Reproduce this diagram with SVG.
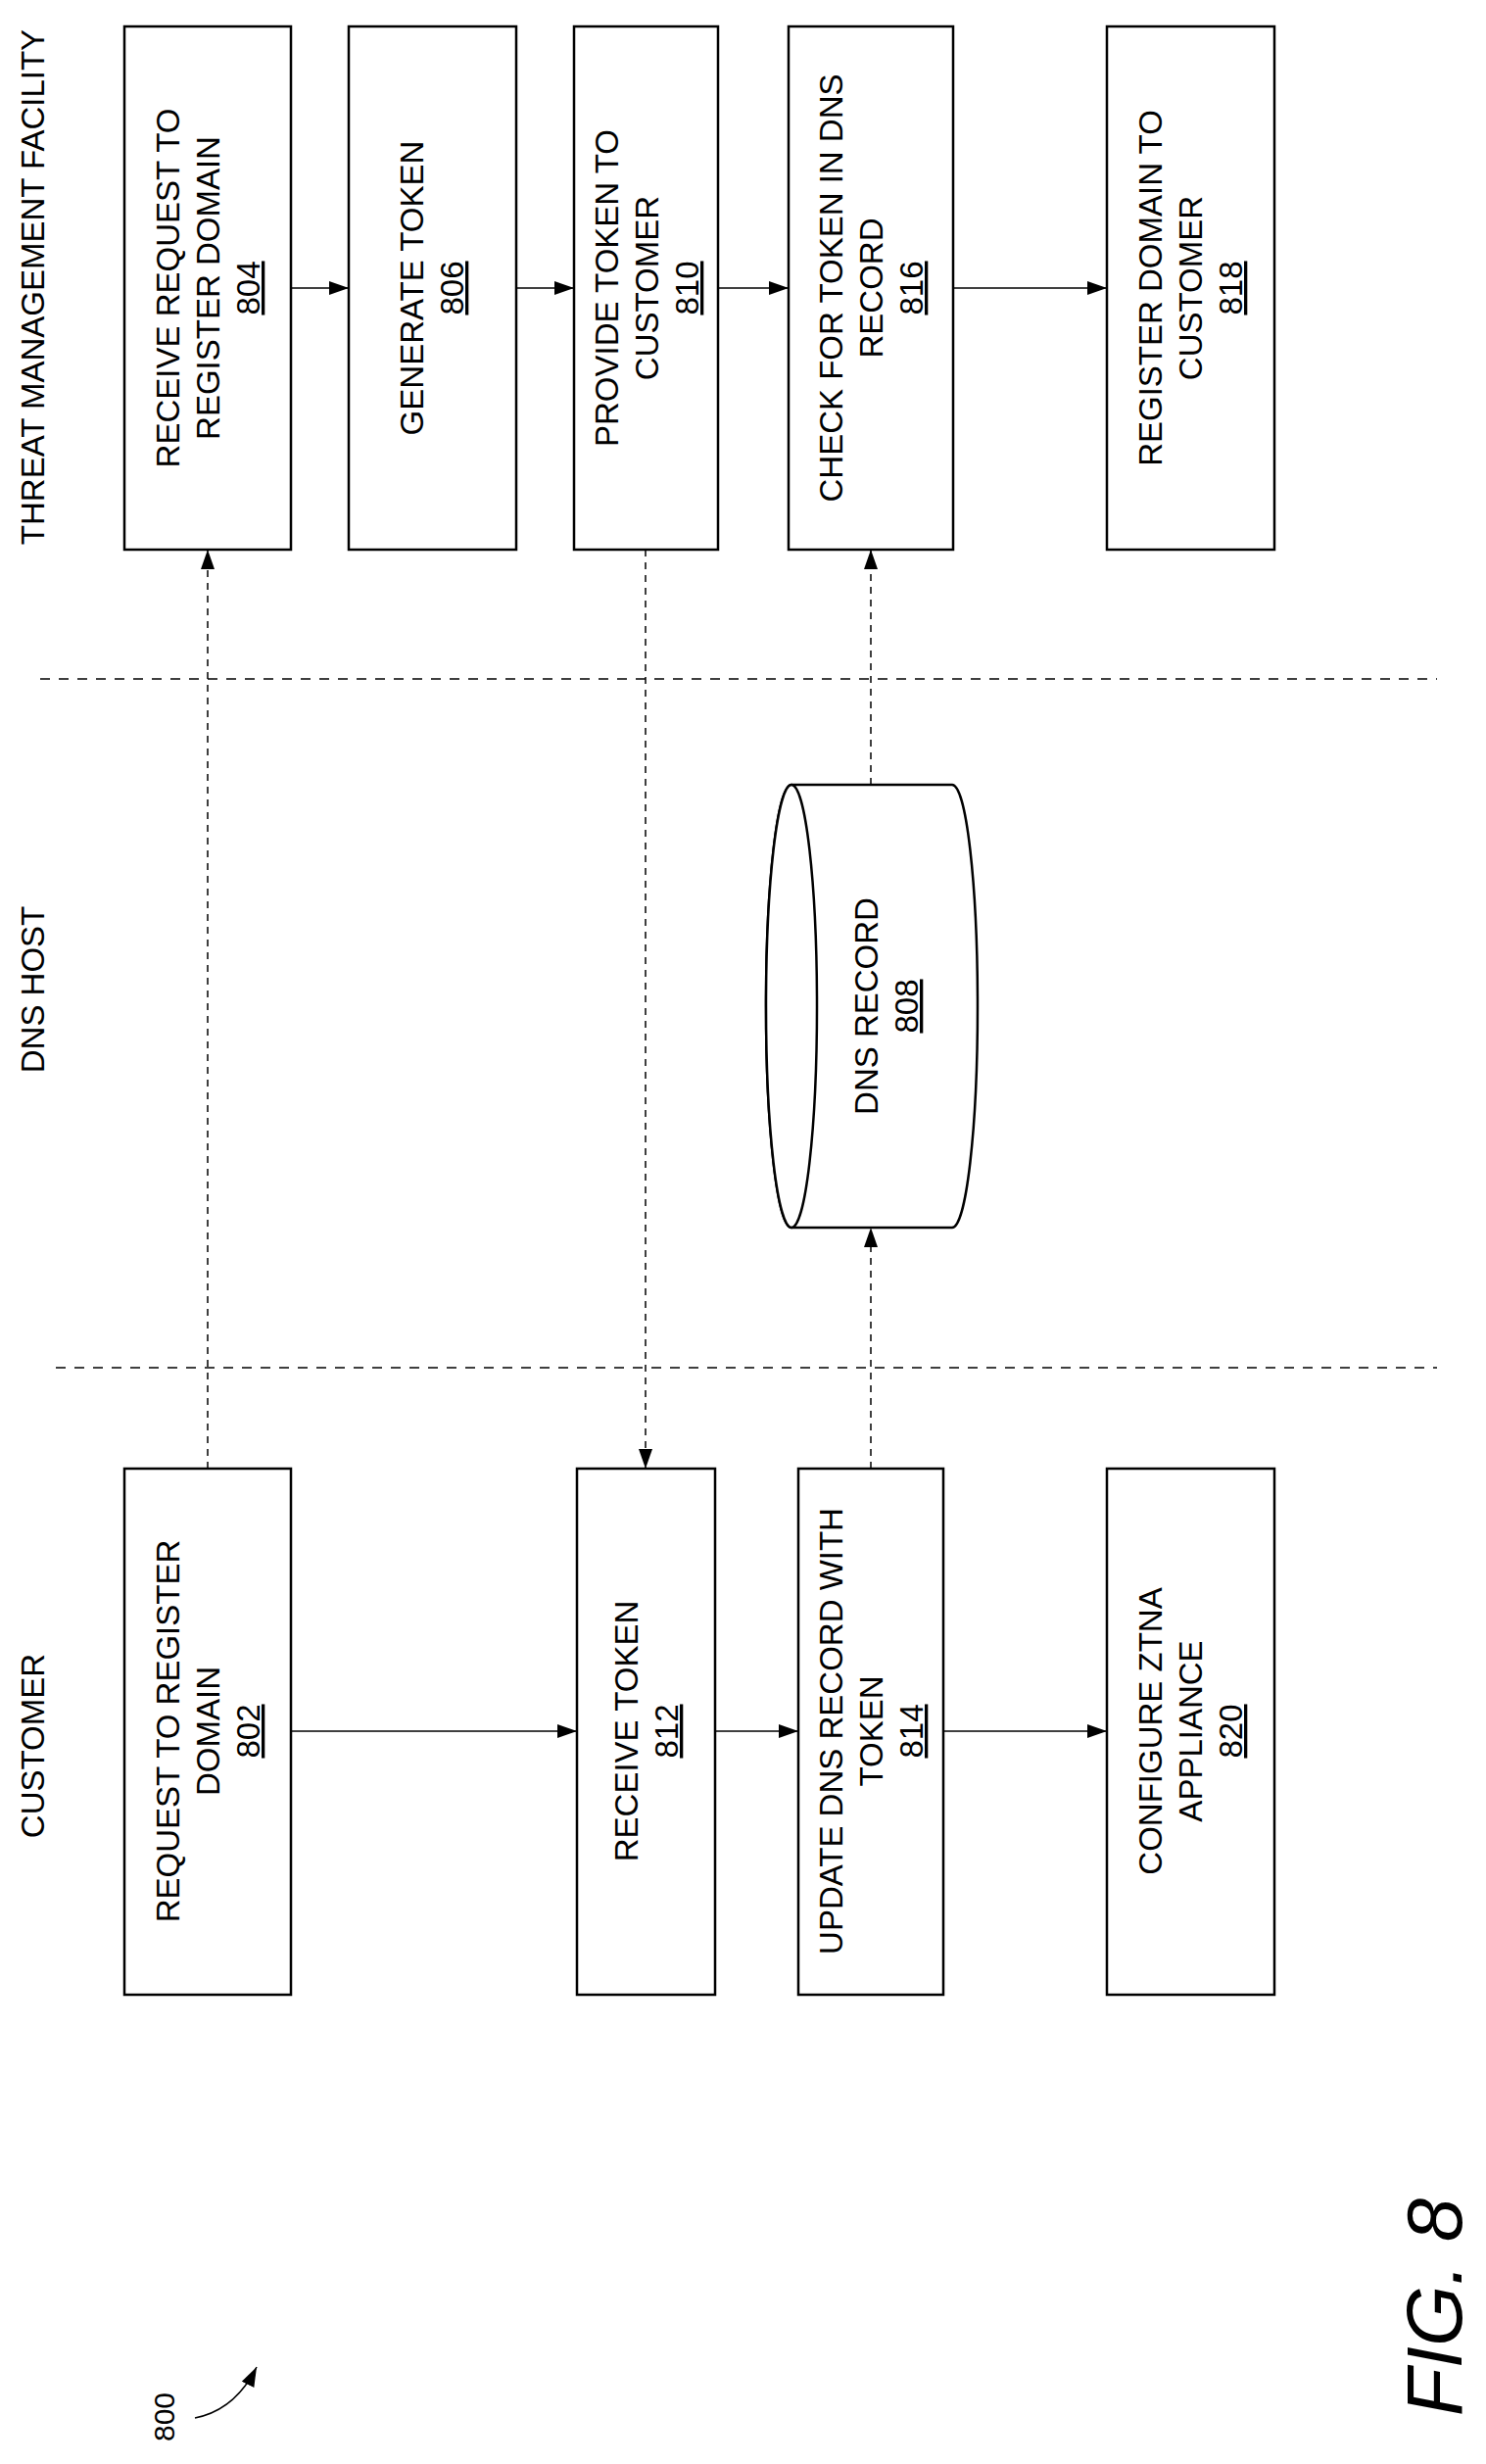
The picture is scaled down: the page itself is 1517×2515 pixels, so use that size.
<svg xmlns="http://www.w3.org/2000/svg" width="1517" height="2515" viewBox="0 0 1517 2515">
<style>
text{font-family:"Liberation Sans",Arial,sans-serif;font-size:33px;fill:#000;text-anchor:middle}
.box{fill:#fff;stroke:#000;stroke-width:2.5}
.c{fill:none;stroke:#000;stroke-width:1.5}
.d{stroke-dasharray:7 6}
.lane{fill:none;stroke:#000;stroke-width:1.5;stroke-dasharray:10 9}
.u{text-decoration:underline}
</style>
<defs>
<marker id="ah" markerUnits="userSpaceOnUse" markerWidth="20" markerHeight="20" refX="20" refY="10" orient="auto">
<path d="M0,3 L20,10 L0,17 Z" fill="#000"/>
</marker>
</defs>
<g id="lanes">
<line class="lane" x1="41" y1="693" x2="1467" y2="693"/>
<line class="lane" x1="57" y1="1396" x2="1467" y2="1396"/>
<text transform="translate(45,293) rotate(-90)">THREAT MANAGEMENT FACILITY</text>
<text transform="translate(45,1010) rotate(-90)">DNS HOST</text>
<text transform="translate(45,1782) rotate(-90)">CUSTOMER</text>
</g>
<g id="connectors">
<line class="c" x1="297" y1="294" x2="356" y2="294" marker-end="url(#ah)"/>
<line class="c" x1="527" y1="294" x2="586" y2="294" marker-end="url(#ah)"/>
<line class="c" x1="733" y1="294" x2="805" y2="294" marker-end="url(#ah)"/>
<line class="c" x1="973" y1="294" x2="1130" y2="294" marker-end="url(#ah)"/>
<line class="c" x1="297" y1="1767" x2="589" y2="1767" marker-end="url(#ah)"/>
<line class="c" x1="730" y1="1767" x2="815" y2="1767" marker-end="url(#ah)"/>
<line class="c" x1="963" y1="1767" x2="1130" y2="1767" marker-end="url(#ah)"/>
<line class="c d" x1="212" y1="1499" x2="212" y2="561" marker-end="url(#ah)"/>
<line class="c d" x1="659" y1="561" x2="659" y2="1499" marker-end="url(#ah)"/>
<line class="c d" x1="889" y1="1499" x2="889" y2="1253" marker-end="url(#ah)"/>
<line class="c d" x1="889" y1="801" x2="889" y2="561" marker-end="url(#ah)"/>
<path class="c" d="M199,2468 Q240,2460 262,2416" marker-end="url(#ah)"/>
</g>
<g id="n804"><rect class="box" x="127" y="27" width="170" height="534"/>
<text transform="translate(212,294) rotate(-90)"><tspan x="0" y="-29">RECEIVE REQUEST TO</tspan><tspan x="0" y="12">REGISTER DOMAIN</tspan><tspan x="0" y="53" class="u">804</tspan></text></g>
<g id="n806"><rect class="box" x="356" y="27" width="171" height="534"/>
<text transform="translate(441,294) rotate(-90)"><tspan x="0" y="-9">GENERATE TOKEN</tspan><tspan x="0" y="32" class="u">806</tspan></text></g>
<g id="n810"><rect class="box" x="586" y="27" width="147" height="534"/>
<text transform="translate(660,294) rotate(-90)"><tspan x="0" y="-29">PROVIDE TOKEN TO</tspan><tspan x="0" y="12">CUSTOMER</tspan><tspan x="0" y="53" class="u">810</tspan></text></g>
<g id="n816"><rect class="box" x="805" y="27" width="168" height="534"/>
<text transform="translate(889,294) rotate(-90)"><tspan x="0" y="-29">CHECK FOR TOKEN IN DNS</tspan><tspan x="0" y="12">RECORD</tspan><tspan x="0" y="53" class="u">816</tspan></text></g>
<g id="n818"><rect class="box" x="1130" y="27" width="171" height="534"/>
<text transform="translate(1215,294) rotate(-90)"><tspan x="0" y="-29">REGISTER DOMAIN TO</tspan><tspan x="0" y="12">CUSTOMER</tspan><tspan x="0" y="53" class="u">818</tspan></text></g>
<g id="n808">
<path class="box" d="M808,801 L972,801 A26,226 0 0 1 972,1253 L808,1253 A26,226 0 0 1 808,801 Z"/>
<ellipse class="box" cx="808" cy="1027" rx="26" ry="226"/>
<text transform="translate(905,1027) rotate(-90)"><tspan x="0" y="-9">DNS RECORD</tspan><tspan x="0" y="32" class="u">808</tspan></text></g>
<g id="n802"><rect class="box" x="127" y="1499" width="170" height="537"/>
<text transform="translate(212,1767) rotate(-90)"><tspan x="0" y="-29">REQUEST TO REGISTER</tspan><tspan x="0" y="12">DOMAIN</tspan><tspan x="0" y="53" class="u">802</tspan></text></g>
<g id="n812"><rect class="box" x="589" y="1499" width="141" height="537"/>
<text transform="translate(660,1767) rotate(-90)"><tspan x="0" y="-9">RECEIVE TOKEN</tspan><tspan x="0" y="32" class="u">812</tspan></text></g>
<g id="n814"><rect class="box" x="815" y="1499" width="148" height="537"/>
<text transform="translate(889,1767) rotate(-90)"><tspan x="0" y="-29">UPDATE DNS RECORD WITH</tspan><tspan x="0" y="12">TOKEN</tspan><tspan x="0" y="53" class="u">814</tspan></text></g>
<g id="n820"><rect class="box" x="1130" y="1499" width="171" height="537"/>
<text transform="translate(1215,1767) rotate(-90)"><tspan x="0" y="-29">CONFIGURE ZTNA</tspan><tspan x="0" y="12">APPLIANCE</tspan><tspan x="0" y="53" class="u">820</tspan></text></g>
<g id="labels">
<text transform="translate(178,2467) rotate(-90)" style="font-size:30px">800</text>
<text transform="translate(1492,2355) rotate(-90)" style="font-size:80px;font-style:italic">FIG. 8</text>
</g>
</svg>
